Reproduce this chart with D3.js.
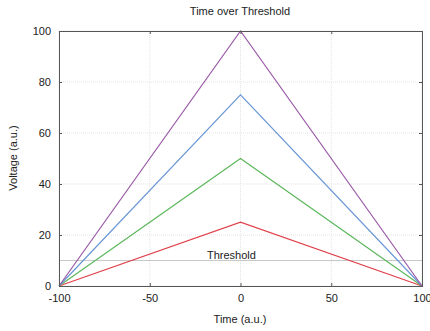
<!DOCTYPE html>
<html><head><meta charset="utf-8">
<script src="https://cdn.jsdelivr.net/npm/d3@7"></script>
<style>body{margin:0;background:#fff;font-family:"Liberation Sans",Arial,sans-serif;}</style>
</head><body><svg id="c" width="430" height="331"></svg>
<script>
const xPoints = [-100, 0, 100];
const peaks = [25, 50, 75, 100];
const seriesColors = ["#e0404a", "#5cb85c", "#6a97d6", "#9a5aa8"];
const xTicks = [-100, -50, 0, 50, 100];
const yTicks = [0, 20, 40, 60, 80, 100];
const threshold = 10;

const svg = d3.select("#c");
const m = {l:59, r:422, t:31, b:286};
const x = d3.scaleLinear().domain([-100,100]).range([m.l, m.r]);
const y = d3.scaleLinear().domain([0,100]).range([m.b, m.t]);

// grid
const g = svg.append("g");
xTicks.forEach(t => g.append("line").attr("x1",x(t)).attr("x2",x(t)).attr("y1",m.t).attr("y2",m.b)
  .attr("stroke","#e4e4e4").attr("stroke-width",1).attr("stroke-dasharray","1,1"));
yTicks.forEach(t => g.append("line").attr("x1",m.l).attr("x2",m.r).attr("y1",y(t)).attr("y2",y(t))
  .attr("stroke","#e4e4e4").attr("stroke-width",1).attr("stroke-dasharray","1,1"));

// threshold
svg.append("line").attr("x1",m.l).attr("x2",m.r).attr("y1",y(threshold)).attr("y2",y(threshold))
  .attr("stroke","#c8c8c8").attr("stroke-width",1);
svg.append("text").attr("x",x(-5)).attr("y",y(threshold)-1.5).attr("text-anchor","middle")
  .attr("font-size",11).attr("fill","#222").text("Threshold");

// series
const line = d3.line().x(d=>x(d[0])).y(d=>y(d[1]));
peaks.forEach((p,i) => {
  const data = xPoints.map((xv,j) => [xv, j===1 ? p : 0]);
  svg.append("path").datum(data).attr("d",line).attr("fill","none")
    .attr("stroke",seriesColors[i]).attr("stroke-width",1.2);
});

// axes
const fmt = d => String(d);
const xa = svg.append("g").attr("transform",`translate(0,${m.b})`)
  .call(d3.axisBottom(x).tickValues(xTicks).tickSize(-3).tickPadding(8).tickFormat(fmt));
const xa2 = svg.append("g").attr("transform",`translate(0,${m.t})`)
  .call(d3.axisTop(x).tickValues(xTicks).tickSize(-3).tickFormat(""));
const ya = svg.append("g").attr("transform",`translate(${m.l},0)`)
  .call(d3.axisLeft(y).tickValues(yTicks).tickSize(-3).tickPadding(8).tickFormat(fmt));
const ya2 = svg.append("g").attr("transform",`translate(${m.r},0)`)
  .call(d3.axisRight(y).tickValues(yTicks).tickSize(-3).tickFormat(""));
[xa,xa2,ya,ya2].forEach(a => {
  a.selectAll("path").attr("stroke","#555").attr("stroke-width",1);
  a.selectAll("line").attr("stroke","#555");
  a.selectAll("text").attr("font-size",11).attr("fill","#222").attr("font-family","Liberation Sans, Arial, sans-serif");
});

svg.append("text").attr("x",240).attr("y",15).attr("text-anchor","middle").attr("font-size",11).attr("fill","#222").text("Time over Threshold");
svg.append("text").attr("x",240).attr("y",323).attr("text-anchor","middle").attr("font-size",11).attr("fill","#222").text("Time (a.u.)");
svg.append("text").attr("transform","translate(17,158) rotate(-90)").attr("text-anchor","middle").attr("font-size",11).attr("fill","#222").text("Voltage (a.u.)");
</script></body></html>
